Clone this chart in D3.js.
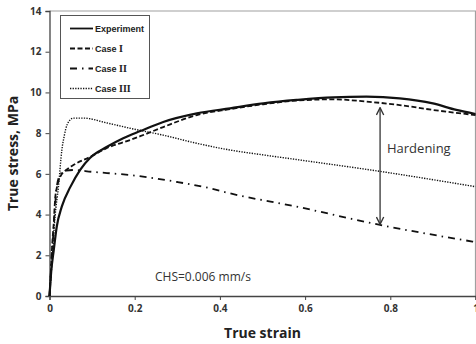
<!DOCTYPE html>
<html>
<head>
<meta charset="utf-8">
<script src="https://cdn.jsdelivr.net/npm/d3@7"></script>
<style>
  body { margin: 0; background: #fff; }
  svg { display: block; }
  .tick text { font-family: "Open Sans", "Noto Sans", sans-serif; font-weight: bold; font-size: 10px; fill: #333; }
</style>
</head>
<body>
<svg id="chart" width="476" height="344"></svg>
<script>
// strain / stress values
const expStrain  = [0, 0.004, 0.01, 0.017, 0.029, 0.049, 0.072, 0.095, 0.135, 0.173, 0.213, 0.267, 0.346, 0.424, 0.502, 0.58, 0.666, 0.744, 0.822, 0.9, 0.955, 1.0];
const expStress  = [0, 1.2, 2.26, 3.4, 4.4, 5.36, 6.2, 6.78, 7.33, 7.75, 8.1, 8.55, 8.97, 9.22, 9.46, 9.63, 9.76, 9.79, 9.71, 9.46, 9.14, 8.94];

const case1Strain = [0, 0.003, 0.006, 0.01, 0.013, 0.018, 0.025, 0.04, 0.056, 0.095, 0.135, 0.189, 0.213, 0.267, 0.346, 0.424, 0.502, 0.58, 0.666, 0.744, 0.822, 0.9, 1.0];
const case1Stress = [0, 1.0, 2.4, 3.6, 4.7, 5.4, 5.85, 6.2, 6.43, 6.83, 7.27, 7.66, 7.85, 8.3, 8.89, 9.18, 9.42, 9.6, 9.66, 9.55, 9.38, 9.14, 8.89];

const case2Strain = [0, 0.004, 0.009, 0.013, 0.017, 0.025, 0.035, 0.056, 0.1, 0.135, 0.189, 0.3, 0.377, 0.424, 0.58, 0.776, 1.0];
const case2Stress = [0, 1.5, 3.1, 4.4, 5.36, 5.95, 6.15, 6.19, 6.1, 6.04, 5.94, 5.6, 5.29, 5.04, 4.39, 3.49, 2.65];

const case3Strain = [0, 0.005, 0.013, 0.021, 0.029, 0.035, 0.041, 0.056, 0.079, 0.135, 0.189, 0.267, 0.346, 0.424, 0.502, 0.588, 0.783, 1.0];
const case3Stress = [0, 1.4, 3.9, 5.36, 7.17, 7.9, 8.4, 8.74, 8.74, 8.5, 8.24, 7.9, 7.5, 7.17, 6.93, 6.68, 6.1, 5.37];

const xTicks = [0, 0.2, 0.4, 0.6, 0.8, 1];
const yTicks = [0, 2, 4, 6, 8, 10, 12, 14];
// legend labels: word + roman numeral
const seriesNames = [["Experiment", ""], ["Case ", "I"], ["Case ", "II"], ["Case ", "III"]];

const hardening = { strain: 0.776, top: 9.25, bottom: 3.52 };

const zip = (xs, ys) => xs.map((x, i) => ({ x, y: ys[i] }));
const series = [
  { name: seriesNames[0], data: zip(expStrain, expStress), dash: null, width: 2.2 },
  { name: seriesNames[1], data: zip(case1Strain, case1Stress), dash: "5,2.5", width: 1.8 },
  { name: seriesNames[2], data: zip(case2Strain, case2Stress), dash: "7,5,1.5,5", width: 1.8 },
  { name: seriesNames[3], data: zip(case3Strain, case3Stress), dash: "1.3,1.3", width: 1.4 }
];

const svg = d3.select("#chart");
const mLeft = 49.5, mRight = 475.5, mTop = 11, mBottom = 296;

const x = d3.scaleLinear().domain([0, 1]).range([mLeft, mRight]);
const y = d3.scaleLinear().domain([0, 14]).range([mBottom, mTop]);

// gray frame on top/right
svg.append("path")
  .attr("d", `M${mLeft},${mTop}H${mRight}V${mBottom}`)
  .attr("fill", "none").attr("stroke", "#a0a0a0").attr("stroke-width", 1.2);

const xAxis = svg.append("g")
  .attr("transform", `translate(0,${mBottom})`)
  .call(d3.axisBottom(x).tickValues(xTicks).tickSize(4).tickPadding(5).tickFormat(d3.format("")));
const yAxis = svg.append("g")
  .attr("transform", `translate(${mLeft},0)`)
  .call(d3.axisLeft(y).tickValues(yTicks).tickSize(4).tickPadding(4));
[xAxis, yAxis].forEach(g => {
  g.select(".domain").attr("stroke", "#444").attr("stroke-width", 1.3);
  g.selectAll(".tick line").attr("stroke", "#444");
});

const line = d3.line().x(d => x(d.x)).y(d => y(d.y)).curve(d3.curveMonotoneX);

svg.append("g").selectAll("path")
  .data(series)
  .join("path")
  .attr("d", d => line(d.data))
  .attr("fill", "none")
  .attr("stroke", "#111")
  .attr("stroke-width", d => d.width)
  .attr("stroke-dasharray", d => d.dash);

// hardening arrow
const defs = svg.append("defs");
defs.append("marker")
  .attr("id", "head")
  .attr("viewBox", "0 0 10 10")
  .attr("refX", 9).attr("refY", 5)
  .attr("markerWidth", 7).attr("markerHeight", 7)
  .attr("orient", "auto-start-reverse")
  .append("path")
  .attr("d", "M1,1L9,5L1,9")
  .attr("fill", "none").attr("stroke", "#333").attr("stroke-width", 1.5);

svg.append("line")
  .attr("x1", x(hardening.strain)).attr("x2", x(hardening.strain))
  .attr("y1", y(hardening.bottom)).attr("y2", y(hardening.top))
  .attr("stroke", "#333").attr("stroke-width", 1.3)
  .attr("marker-start", "url(#head)").attr("marker-end", "url(#head)");

svg.append("text")
  .attr("x", 387).attr("y", 153)
  .attr("font-family", "Open Sans, Noto Sans, sans-serif")
  .attr("font-size", 13).attr("fill", "#333")
  .text("Hardening");

svg.append("text")
  .attr("x", 155).attr("y", 281)
  .attr("font-family", "Open Sans, Noto Sans, sans-serif")
  .attr("font-size", 12).attr("fill", "#333")
  .text("CHS=0.006 mm/s");

// axis titles
svg.append("text")
  .attr("x", (mLeft + mRight) / 2).attr("y", 338)
  .attr("text-anchor", "middle")
  .attr("font-family", "Open Sans, Noto Sans, sans-serif")
  .attr("font-weight", "bold").attr("font-size", 14).attr("fill", "#222")
  .text("True strain");

svg.append("text")
  .attr("transform", `translate(18,${(mTop + mBottom) / 2}) rotate(-90)`)
  .attr("text-anchor", "middle")
  .attr("font-family", "Open Sans, Noto Sans, sans-serif")
  .attr("font-weight", "bold").attr("font-size", 14).attr("fill", "#222")
  .text("True stress, MPa");

// legend
const lg = svg.append("g");
lg.append("rect")
  .attr("x", 60.5).attr("y", 15.5).attr("width", 89).attr("height", 83)
  .attr("fill", "#fff").attr("stroke", "#555").attr("stroke-width", 1);
const items = lg.selectAll("g.item")
  .data(series)
  .join("g")
  .attr("transform", (d, i) => `translate(0,${28.5 + i * 20})`);
items.append("line")
  .attr("x1", 70).attr("x2", 93).attr("y1", 0).attr("y2", 0)
  .attr("stroke", "#111")
  .attr("stroke-width", d => Math.min(d.width, 1.8))
  .attr("stroke-dasharray", d => d.dash);
const lt = items.append("text")
  .attr("x", 95).attr("y", 3.5)
  .attr("font-family", "Liberation Sans, Arial, sans-serif")
  .attr("font-weight", "bold").attr("font-size", 9).attr("fill", "#222");
lt.append("tspan").text(d => d.name[0]);
lt.append("tspan")
  .attr("font-family", "Liberation Serif, DejaVu Serif, serif")
  .attr("font-size", 10)
  .text(d => d.name[1]);
</script>
</body>
</html>
